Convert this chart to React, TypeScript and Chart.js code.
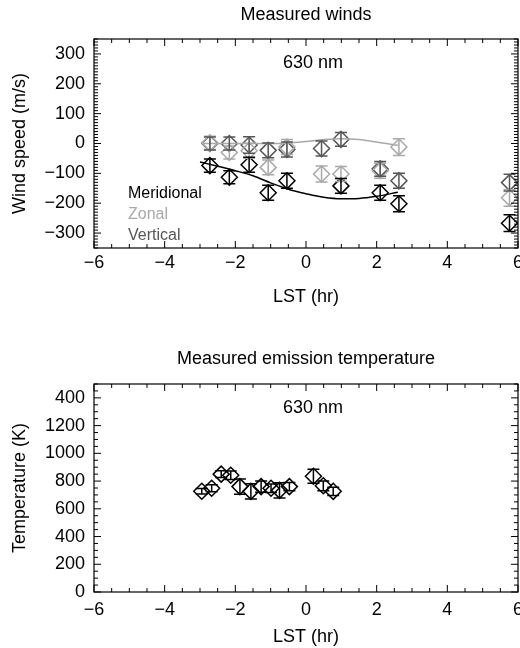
import React, { useEffect, useRef } from 'react';
import { Chart, registerables } from 'chart.js';
Chart.register(...registerables);

const FONT = "'Liberation Sans', Arial, Helvetica, sans-serif";

// ---------- Top chart: measured winds ----------
const meridionalX = [-2.72, -2.17, -1.61, -1.07, -0.54, 0.99, 2.1, 2.63, 5.76];
const meridionalY = [-74, -113, -71, -165, -125, -142, -165, -202, -267];
const meridionalErr = [22, 22, 25, 25, 25, 25, 25, 27, 28];

const zonalX = [-2.72, -2.17, -1.61, -1.07, -0.54, 0.44, 0.99, 2.1, 2.63, 5.76];
const zonalY = [2, -30, -24, -80, -12, -102, -102, -91, -12, -182];
const zonalErr = [22, 22, 25, 25, 25, 27, 25, 25, 28, 28];

const verticalX = [-2.72, -2.17, -1.61, -1.07, -0.54, 0.44, 0.99, 2.1, 2.63, 5.76];
const verticalY = [0, 0, -5, -23, -20, -17, 14, -85, -125, -131];
const verticalErr = [22, 22, 28, 25, 25, 25, 23, 25, 25, 28];

const meridionalFitX = [-3.0, -2.5, -2.0, -1.5, -1.0, -0.5, 0, 0.5, 1.0, 1.5, 2.0, 2.6];
const meridionalFitY = [-62, -76, -91, -108, -132, -153, -168, -180, -185, -184, -177, -163];

const zonalFitX = [-2.9, -2.0, -1.0, -0.5, 0, 0.5, 1.0, 1.5, 2.0, 2.6];
const zonalFitY = [0, 0, 0, 2, 7, 13, 16, 13, 5, -6];

const windTickValues = [-300, -200, -100, 0, 100, 200, 300];
const windTickLabels = ['\u2212300', '\u2212200', '\u2212100', '0', '100', '200', '300'];

// ---------- Bottom chart: emission temperature ----------
const tempX = [-2.95, -2.67, -2.4, -2.13, -1.87, -1.56, -1.27, -0.99, -0.75, -0.47, 0.21, 0.49, 0.77];
const tempY = [727, 748, 850, 842, 760, 726, 760, 748, 733, 760, 835, 766, 726];
const tempErr = [20, 25, 25, 30, 55, 55, 40, 30, 55, 30, 50, 35, 30];

const tempTickValues = [0, 200, 400, 600, 800, 1000, 1200, 1400];
const tempTickLabels = ['0', '200', '400', '600', '800', '1000', '1200', '400'];

// ---------- shared x axis ----------
const lstTickValues = [-6, -4, -2, 0, 2, 4, 6];
const lstTickLabels = ['\u22126', '\u22124', '\u22122', '0', '2', '4', '6'];

const BLACK = '#000000';
const LIGHT = '#a9a9a9';
const DARK = '#555555';

const pts = (xs: number[], ys: number[], es?: number[]) =>
  xs.map((x, i) => ({ x, y: ys[i], e: es ? es[i] : 0 }));

const decorPlugin = {
  id: 'decor',
  afterDatasetsDraw(chart: any) {
    const { ctx, scales } = chart;
    const ys = scales.y;
    ctx.save();
    chart.data.datasets.forEach((ds: any, di: number) => {
      if (!ds.errorBars) return;
      const meta = chart.getDatasetMeta(di);
      ctx.strokeStyle = ds.borderColor;
      ctx.lineWidth = 1.5;
      ds.data.forEach((d: any, j: number) => {
        const el = meta.data[j];
        const px = el.x;
        const yTop = ys.getPixelForValue(d.y + d.e);
        const yBot = ys.getPixelForValue(d.y - d.e);
        const cap = 6;
        ctx.beginPath();
        ctx.moveTo(px, yTop);
        ctx.lineTo(px, yBot);
        ctx.moveTo(px - cap, yTop);
        ctx.lineTo(px + cap, yTop);
        ctx.moveTo(px - cap, yBot);
        ctx.lineTo(px + cap, yBot);
        ctx.stroke();
      });
    });
    ctx.restore();
  },
  afterDraw(chart: any) {
    const o = chart.options.plugins.decor || {};
    const { ctx, chartArea: a, scales } = chart;
    const xs = scales.x;
    const ys = scales.y;
    ctx.save();
    ctx.strokeStyle = '#000';
    ctx.lineWidth = 1.2;
    ctx.strokeRect(a.left, a.top, a.right - a.left, a.bottom - a.top);
    ctx.lineWidth = 1;
    const seg = (x1: number, y1: number, x2: number, y2: number) => {
      ctx.beginPath();
      ctx.moveTo(x1, y1);
      ctx.lineTo(x2, y2);
      ctx.stroke();
    };
    // x ticks (inward, bottom & top)
    const xMin = xs.min, xMax = xs.max;
    const nx = Math.round((xMax - xMin) / o.xMinor);
    for (let i = 0; i <= nx; i++) {
      const v = xMin + i * o.xMinor;
      const major = Math.abs(v / o.xMajor - Math.round(v / o.xMajor)) < 1e-6;
      const len = major ? 7 : 4;
      const px = xs.getPixelForValue(v);
      seg(px, a.bottom, px, a.bottom - len);
      seg(px, a.top, px, a.top + len);
    }
    // y ticks (inward, left & right)
    const yStart = Math.ceil(ys.min / o.yMinor) * o.yMinor;
    const ny = Math.floor((ys.max - yStart) / o.yMinor);
    for (let i = 0; i <= ny; i++) {
      const v = yStart + i * o.yMinor;
      const major = Math.abs(v / o.yMajor - Math.round(v / o.yMajor)) < 1e-6;
      const len = major ? 7 : 4;
      const py = ys.getPixelForValue(v);
      seg(a.left, py, a.left + len, py);
      seg(a.right, py, a.right - len, py);
    }
    // annotation
    ctx.fillStyle = '#000';
    ctx.textAlign = 'center';
    ctx.textBaseline = 'middle';
    ctx.font = `18px ${FONT}`;
    ctx.fillText('630 nm', a.left + 219, a.top + 24);
    // text legend
    if (o.legend) {
      ctx.font = `16px ${FONT}`;
      ctx.textAlign = 'left';
      o.legend.forEach((it: any, i: number) => {
        ctx.fillStyle = it.color;
        ctx.fillText(it.text, a.left + 34, a.bottom - 54 + i * 21);
      });
    }
    ctx.restore();
  },
};

function labelFor(values: number[], labels: string[]) {
  return (v: any) => {
    const idx = values.findIndex((t) => Math.abs(t - Number(v)) < 1e-6);
    return idx >= 0 ? labels[idx] : '';
  };
}

function baseConfig(opts: any) {
  return {
    type: 'scatter',
    data: { datasets: opts.datasets },
    plugins: [decorPlugin],
    options: {
      animation: false,
      responsive: false,
      devicePixelRatio: 1,
      layout: { autoPadding: false, padding: { left: 0, right: 2, top: 0, bottom: 0 } },
      plugins: {
        legend: { display: false },
        tooltip: { enabled: false },
        title: {
          display: true,
          text: opts.title,
          fullSize: false,
          color: '#000',
          font: { size: 18, weight: 'normal', family: FONT },
          padding: opts.titlePadding,
        },
        decor: opts.decor,
      },
      scales: {
        x: {
          type: 'linear',
          position: 'bottom',
          min: -6,
          max: 6,
          grid: { display: false, drawTicks: false },
          border: { display: false },
          afterBuildTicks: (s: any) => {
            s.ticks = lstTickValues.map((v) => ({ value: v }));
          },
          ticks: {
            color: '#000',
            font: { size: 18, family: FONT },
            padding: opts.xTickPad,
            maxRotation: 0,
            autoSkip: false,
            callback: labelFor(lstTickValues, lstTickLabels),
          },
          title: {
            display: true,
            text: 'LST (hr)',
            color: '#000',
            font: { size: 18, family: FONT },
            padding: { top: 0, bottom: opts.xTitlePad },
          },
          afterFit: (s: any) => {
            s.height = opts.xHeight;
            s.paddingLeft = 0;
            s.paddingRight = 0;
          },
        },
        y: {
          type: 'linear',
          position: 'left',
          min: opts.yMin,
          max: opts.yMax,
          grid: { display: false, drawTicks: false },
          border: { display: false },
          afterBuildTicks: (s: any) => {
            s.ticks = opts.yTickValues.map((v: number) => ({ value: v }));
          },
          ticks: {
            color: '#000',
            font: { size: 18, family: FONT },
            padding: 9,
            autoSkip: false,
            callback: labelFor(opts.yTickValues, opts.yTickLabels),
          },
          title: {
            display: true,
            text: opts.yTitle,
            color: '#000',
            font: { size: 18, family: FONT },
            padding: { top: 9, bottom: 0 },
          },
          afterFit: (s: any) => {
            s.width = 94;
            s.paddingTop = 0;
            s.paddingBottom = 0;
          },
        },
      },
    },
  };
}

function markerSet(label: string, color: string, xs: number[], ys: number[], es: number[]) {
  return {
    label,
    data: pts(xs, ys, es),
    errorBars: true,
    showLine: false,
    borderColor: color,
    backgroundColor: 'rgba(0,0,0,0)',
    pointStyle: 'rectRot',
    pointRadius: 8,
    pointBorderWidth: 1.5,
    pointBorderColor: color,
    pointBackgroundColor: 'rgba(0,0,0,0)',
  };
}

function lineSet(label: string, color: string, xs: number[], ys: number[]) {
  return {
    label,
    data: pts(xs, ys),
    showLine: true,
    borderColor: color,
    borderWidth: 1.5,
    pointRadius: 0,
    tension: 0,
    cubicInterpolationMode: 'monotone',
  };
}

function ChartBox({ config }: { config: any }) {
  const ref = useRef<HTMLCanvasElement | null>(null);
  useEffect(() => {
    if (!ref.current) return;
    const chart = new Chart(ref.current, config);
    return () => chart.destroy();
  }, []);
  return (
    <div style={{ width: 520, height: 324, position: 'relative' }}>
      <canvas ref={ref} width={520} height={324} style={{ display: 'block' }} />
    </div>
  );
}

export default function App() {
  const topConfig = baseConfig({
    title: 'Measured winds',
    titlePadding: { top: 4, bottom: 13.4 },
    xTickPad: 4,
    xTitlePad: 16,
    xHeight: 76,
    yMin: -350,
    yMax: 350,
    yTickValues: windTickValues,
    yTickLabels: windTickLabels,
    yTitle: 'Wind speed (m/s)',
    decor: {
      xMajor: 2,
      xMinor: 0.5,
      yMajor: 100,
      yMinor: 10,
      legend: [
        { text: 'Meridional', color: BLACK },
        { text: 'Zonal', color: LIGHT },
        { text: 'Vertical', color: DARK },
      ],
    },
    datasets: [
      lineSet('Zonal fit', LIGHT, zonalFitX, zonalFitY),
      lineSet('Meridional fit', BLACK, meridionalFitX, meridionalFitY),
      markerSet('Zonal', LIGHT, zonalX, zonalY, zonalErr),
      markerSet('Vertical', DARK, verticalX, verticalY, verticalErr),
      markerSet('Meridional', BLACK, meridionalX, meridionalY, meridionalErr),
    ],
  });

  const bottomConfig = baseConfig({
    title: 'Measured emission temperature',
    titlePadding: { top: 24, bottom: 14.4 },
    xTickPad: 7,
    xTitlePad: 0,
    xHeight: 56,
    yMin: 0,
    yMax: 1500,
    yTickValues: tempTickValues,
    yTickLabels: tempTickLabels,
    yTitle: 'Temperature (K)',
    decor: { xMajor: 2, xMinor: 0.5, yMajor: 200, yMinor: 50 },
    datasets: [markerSet('Temperature', BLACK, tempX, tempY, tempErr)],
  });

  return (
    <div style={{ position: 'absolute', left: 0, top: 0, width: 520, height: 648, background: '#fff' }}>
      <ChartBox config={topConfig} />
      <ChartBox config={bottomConfig} />
    </div>
  );
}
